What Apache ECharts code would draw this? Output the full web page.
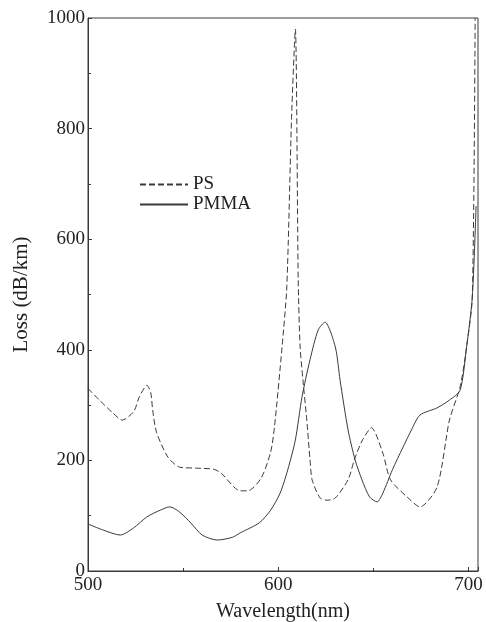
<!DOCTYPE html>
<html>
<head>
<meta charset="utf-8">
<script src="https://cdn.jsdelivr.net/npm/echarts@6/dist/echarts.min.js"></script>
<style>
  html, body { margin: 0; padding: 0; background: #fff; }
  #chart { width: 486px; height: 622px; }
</style>
</head>
<body>
<div id="chart"></div>
<script>
// PS 损耗谱 (虚线)
const psWave = [500, 506, 513, 518, 524, 527, 531, 533, 534, 536, 542, 548, 557, 566, 570, 580, 584,
                591, 596, 598, 602, 604.5, 607, 609, 610.5, 611.5, 613, 615, 616.7, 617.8, 622, 625.7,
                630, 636.7, 640, 644, 649, 655, 659, 667.7, 674.5, 683.5, 690, 695.6, 699, 702, 703.5];
const psLoss = [330, 309, 286, 273, 288, 315, 336, 322, 291, 251, 206, 188, 186, 184, 177, 145, 145,
                168, 215, 260, 405, 514, 820, 980, 526, 405, 345, 273, 201, 165, 132, 128,
                132, 165, 201, 235, 259, 213, 165, 134, 116, 152, 273, 333, 405, 495, 1000];

// PMMA 损耗谱 (实线)
const pmmaWave = [500, 508, 517, 524, 531, 538, 543, 548, 554, 560, 568, 576, 580, 590, 596, 601, 605,
                  609, 612.5, 616.7, 621, 624.6, 630, 632.5, 636.7, 640.4, 644, 648, 652, 655, 660,
                  665.6, 670, 674.5, 683.5, 690, 695.6, 699, 702, 704];
const pmmaLoss = [85, 74, 65, 78, 98, 110, 116, 107, 87, 65, 56, 61, 69, 87, 110, 141, 183,
                  237, 315, 382, 436, 450, 405, 345, 255, 201, 165, 134, 125, 141, 183,
                  224, 255, 282, 295, 309, 327, 405, 495, 660];

const xTicks = [500, 600, 700];
const yTicks = [0, 200, 400, 600, 800, 1000];

const serif = '"Liberation Serif", "DejaVu Serif", serif';
const ink = '#3a3a3a';

const chart = echarts.init(document.getElementById('chart'));
chart.setOption({
    animation: false,
    backgroundColor: '#fff',
    grid: {
        left: 88,
        right: 8,
        top: 18,
        bottom: 51,
        outerBoundsMode: 'none',
        show: true,
        borderColor: ink,
        borderWidth: 1
    },
    legend: {
        left: 134,
        top: 170,
        orient: 'vertical',
        itemGap: 1,
        itemWidth: 48,
        itemHeight: 14,
        itemStyle: { opacity: 0 },
        textStyle: { fontFamily: serif, fontSize: 19, color: '#222' },
        data: ['PS', 'PMMA']
    },
    xAxis: {
        type: 'value',
        min: 500,
        max: 705,
        interval: 100,
        name: 'Wavelength(nm)',
        nameLocation: 'middle',
        nameGap: 31,
        nameTextStyle: { fontFamily: serif, fontSize: 20, color: '#222' },
        axisLine: { lineStyle: { color: ink } },
        axisTick: { inside: true, length: 4, lineStyle: { color: ink } },
        minorTick: { show: true, splitNumber: 2, length: 3, lineStyle: { color: ink } },
        splitLine: { show: false },
        axisLabel: {
            fontFamily: serif, fontSize: 19, color: '#222', margin: 5,
            formatter: v => (xTicks.includes(v) ? String(v) : '')
        }
    },
    yAxis: {
        type: 'value',
        min: 0,
        max: 1000,
        interval: 200,
        name: 'Loss (dB/km)',
        nameLocation: 'middle',
        nameGap: 56,
        nameTextStyle: { fontFamily: serif, fontSize: 21, color: '#222' },
        axisLine: { show: true, lineStyle: { color: ink } },
        axisTick: { inside: true, length: 4, lineStyle: { color: ink } },
        minorTick: { show: true, splitNumber: 2, length: 3, lineStyle: { color: ink } },
        splitLine: { show: false },
        axisLabel: {
            fontFamily: serif, fontSize: 19, color: '#222', margin: 3,
            formatter: v => (yTicks.includes(v) ? String(v) : '')
        }
    },
    series: [
        {
            name: 'PS',
            type: 'line',
            data: psWave.map((w, i) => [w, psLoss[i]]),
            smooth: 0.25,
            symbol: 'none',
            itemStyle: { color: ink },
            lineStyle: { color: ink, width: 1, type: [6, 3] }
        },
        {
            name: 'PMMA',
            type: 'line',
            data: pmmaWave.map((w, i) => [w, pmmaLoss[i]]),
            smooth: 0.25,
            symbol: 'none',
            itemStyle: { color: ink },
            lineStyle: { color: ink, width: 1 }
        }
    ]
});
</script>
</body>
</html>
